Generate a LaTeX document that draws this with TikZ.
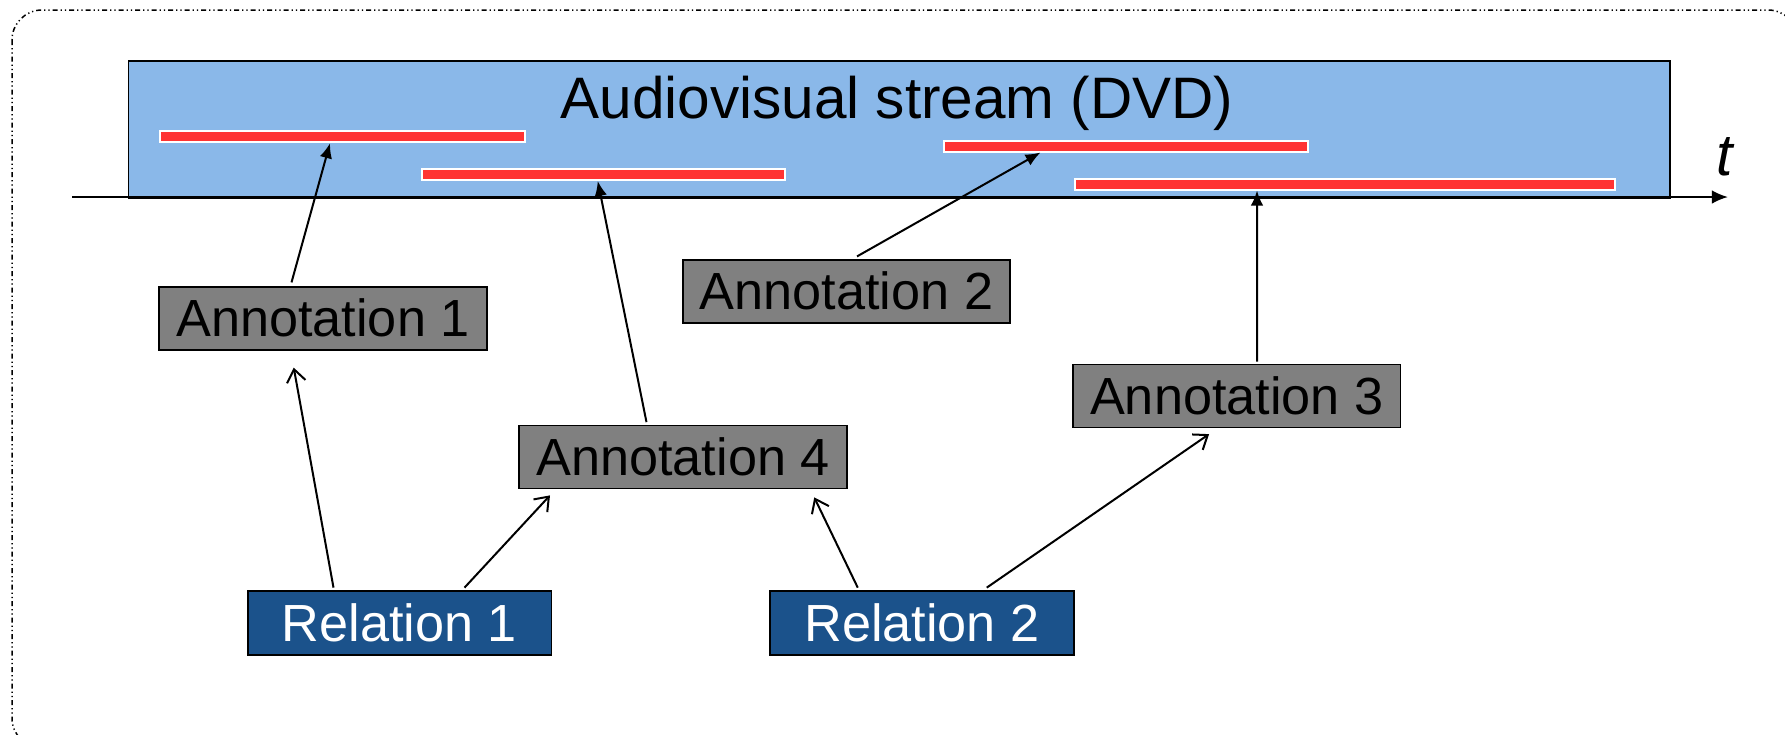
\documentclass[tikz,border=0pt]{standalone}
\usepackage{fontspec}
\setmainfont{Liberation Sans}
\usetikzlibrary{arrows.meta}
\definecolor{streamblue}{RGB}{138,184,233}
\definecolor{relblue}{RGB}{27,82,139}
\definecolor{annogray}{RGB}{128,128,128}
\definecolor{segred}{RGB}{255,51,51}
\begin{document}
\begin{tikzpicture}[x=0.4pt,y=-0.4pt,
  annot/.style={draw=black,line width=0.7pt,fill=annogray,minimum width=131pt,minimum height=25.2pt,inner sep=0pt,font=\fontsize{20.9pt}{24pt}\selectfont},
  relbox/.style={draw=black,line width=0.7pt,fill=relblue,text=white,minimum width=121.5pt,minimum height=25.6pt,inner sep=0pt,font=\fontsize{20.9pt}{24pt}\selectfont},
  seg/.style={draw=white,line width=0.8pt,fill=segred,minimum height=4.4pt,inner sep=0pt},
  fillarrow/.style={line width=0.8pt,-{Latex[length=6pt,width=5pt]}},
  openarrow/.style={line width=0.8pt,-{Straight Barb[length=5pt,width=7.5pt]}}]
\useasboundingbox (0,0) rectangle (1785,734);
\fill[white] (0,0) rectangle (1785,734);
% frame
\draw[line width=0.6pt,rounded corners=12pt,dash pattern=on 2pt off 1.2pt on 0.5pt off 1.2pt on 0.5pt off 1.2pt] (12,10) rectangle (1798,748);
% stream
\node[draw=black,line width=0.6pt,fill=streamblue,minimum width=616.6pt,minimum height=54.8pt,inner sep=0pt,anchor=north west] (stream) at (127.5,60) {};
\node[font=\fontsize{23.4pt}{27pt}\selectfont] (title) at (897,103) {Audiovisual stream (DVD)};
% axis
\coordinate (ax0) at (72,197);
\coordinate (ax1) at (1728,197);
\draw[line width=0.85pt,-{Latex[length=6.5pt,width=5.5pt]}] (ax0) -- (ax1);
\node[font=\fontsize{23.5pt}{27pt}\selectfont\itshape] (t) at (1725,157) {t};
% segments
\node[seg,minimum width=146pt] (r1) at (342.5,136.7) {};
\node[seg,minimum width=145.2pt] (r2) at (603.5,174.5) {};
\node[seg,minimum width=145.6pt] (r3) at (1126,146) {};
\node[seg,minimum width=216pt] (r4) at (1345,184) {};
% annotations
\node[annot] (a1) at (323,318.3) {Annotation 1};
\node[annot] (a2) at (846.5,291.3) {Annotation 2};
\node[annot] (a3) at (1236.8,396) {Annotation 3};
\node[annot] (a4) at (683,457) {Annotation 4};
\node[relbox] (rel1) at (399.5,623) {Relation 1};
\node[relbox] (rel2) at (922,623) {Relation 2};
% connectors
\draw[fillarrow] ([xshift=-12.6pt,yshift=1.4pt]a1.north) -- ([xshift=-5pt]r1.south);
\draw[fillarrow] ([xshift=-14.6pt,yshift=1pt]a4.north) -- ([xshift=-2.3pt]r2.south);
\draw[fillarrow] ([xshift=4.2pt,yshift=1pt]a2.north) -- ([xshift=-34.2pt]r3.south);
\draw[fillarrow] ([xshift=8.1pt,yshift=0.8pt]a3.north) -- ([xshift=-35.2pt]r4.south);
\draw[openarrow] ([xshift=-26.4pt,yshift=1pt]rel1.north) -- ([xshift=-11.7pt,yshift=-6.8pt]a1.south);
\draw[openarrow] ([xshift=26pt,yshift=1pt]rel1.north) -- ([xshift=-53.2pt,yshift=-2.4pt]a4.south);
\draw[openarrow] ([xshift=-25.7pt,yshift=1pt]rel2.north) -- ([xshift=52.5pt,yshift=-3.2pt]a4.south);
\draw[openarrow] ([xshift=25.9pt,yshift=1pt]rel2.north) -- ([xshift=-11.1pt,yshift=-2.3pt]a3.south);
\end{tikzpicture}
\end{document}
